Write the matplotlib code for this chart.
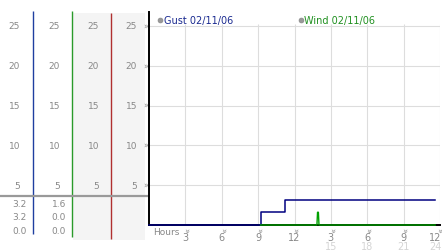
import matplotlib
matplotlib.use('Agg')
import matplotlib.pyplot as plt
from matplotlib.patches import Rectangle
from matplotlib.transforms import blended_transform_factory as blend

# data (hours since 00:00, values)
gust_t = [0, 9.2, 11.2, 23.6]
gust = [0, 1.6, 3.2, 3.2]
wind_t = [9.2, 13.85, 13.9, 13.97, 14.02, 23.6]
wind = [0, 0, 1.6, 1.6, 0, 0]

yticks = [5, 10, 15, 20, 25]
xticks = [3, 6, 9, 12, 15, 18, 21, 24]
xlab_top = ['3', '6', '9', '12', '3', '6', '9', '12']
xlab_bot = ['', '', '', '', '15', '18', '21', '24']

gust_stats = ['3.2', '3.2', '0.0']
wind_stats = ['1.6', '0.0', '0.0']

legend_names = ['Gust 02/11/06', 'Wind 02/11/06']
gust_col = '#000080'
wind_col = '#00a000'
txt_col = '#888888'

W, H = 442, 253
fig = plt.figure(figsize=(W / 100, H / 100), dpi=100)


def px(x0, y0, x1, y1):
    return [x0 / W, 1 - y1 / H, (x1 - x0) / W, (y1 - y0) / H]


# overlay in pixel coords for the side panel
bg = fig.add_axes([0, 0, 1, 1])
bg.set_xlim(0, W)
bg.set_ylim(H, 0)
bg.axis('off')

ax = fig.add_axes(px(149, 13, 440, 226))
ax.set_xlim(0, 24)
ax.set_ylim(0, 26.75)
ax.patch.set_visible(False)
for s in ['top', 'right']:
    ax.spines[s].set_visible(False)
for s in ['left', 'bottom']:
    ax.spines[s].set_color('black')
    ax.spines[s].set_linewidth(1.4)
ax.set_xticks([])
ax.set_yticks([])

# side panel
bg.add_patch(Rectangle((73, 14), 72, 227, color='#f4f4f4', lw=0))
bg.vlines(33, 12, 235, color='#1f3fa0', lw=1)
bg.vlines(72, 12, 238, color='#2a9a2a', lw=1)
bg.vlines(111, 14, 240, color='#b03030', lw=1)
bg.hlines(196.5, 0, 149, color='#999999', lw=1.6)

tr_y = blend(bg.transData, ax.transData)
for v in yticks:
    for xr in [20, 60, 99, 137]:
        bg.text(xr, v, str(v), transform=tr_y, ha='right', va='center',
                fontsize=6.5, color=txt_col)
    bg.text(145.5, v, '»', transform=tr_y, ha='center', va='center',
            fontsize=5.5, color='#888888', zorder=5)

for i, yy in enumerate([205, 218, 232]):
    bg.text(27, yy, gust_stats[i], ha='right', va='center', fontsize=6.5, color=txt_col)
    bg.text(66, yy, wind_stats[i], ha='right', va='center', fontsize=6.5, color=txt_col)

# grid
ax.hlines(yticks, 0, 24, color='#dddddd', lw=0.8, zorder=1)
ax.vlines(xticks, 0, 25.3, color='#dddddd', lw=0.8, zorder=1)

# series
ax.plot(gust_t, gust, drawstyle='steps-post', color=gust_col, lw=1.1,
        clip_on=False, zorder=3)
ax.plot(wind_t, wind, color=wind_col, lw=1.0, clip_on=False, zorder=3)

# x labels
tr_x = blend(ax.transData, bg.transData)
bg.text(153, 233, 'Hours', ha='left', va='center', fontsize=6.5, color=txt_col)
for t, a, b in zip(xticks, xlab_top, xlab_bot):
    last = t == xticks[-1]
    bg.text(t - 0.15 if last else t, 230.5, '»', transform=tr_x, ha='center',
            va='center', fontsize=5.5, color='#888888', rotation=-90, zorder=5)
    ha, xt = ('right', t + 0.12) if last else ('center', t)
    bg.text(xt, 238.5, a, transform=tr_x, ha=ha, va='center',
            fontsize=7, color=txt_col)
    bg.text(xt, 247, b, transform=tr_x, ha=ha, va='center',
            fontsize=7, color='#d4d4d4')

# legend
for x0, name, c in zip([160, 301], legend_names, ['#1a2a90', '#209020']):
    bg.plot(x0, 20.5, 'o', ms=3.5, color='#999999', mec='#888888', mew=0.5)
    bg.text(x0 + 3.5, 20.5, name, ha='left', va='center', fontsize=7, color=c)

fig.savefig('out.png', dpi=100)
